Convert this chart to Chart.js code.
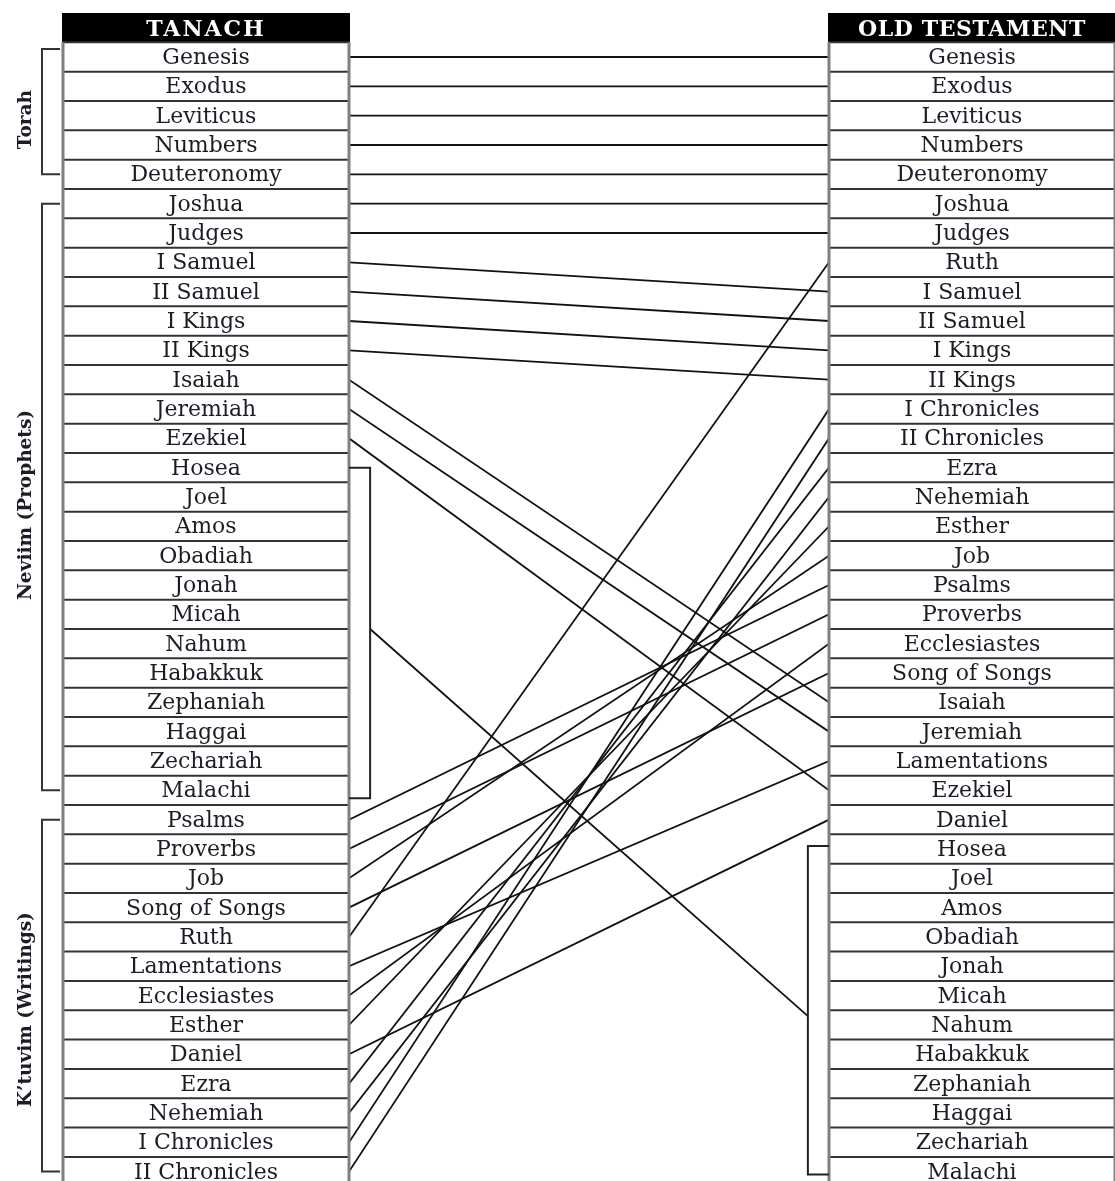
<!DOCTYPE html>
<html lang="en">

<head>
    <meta charset="UTF-8">
    <title>Tanach and Old Testament</title>
    <script src="https://cdn.jsdelivr.net/npm/chart.js@4.4.0/dist/chart.umd.min.js"></script>
    <style>
        html, body { margin: 0; padding: 0; background: #fff; }
        #canvas-container { width: 1115px; height: 1181px; }
    </style>
</head>

<body>
    <div id="canvas-container">
        <canvas id="myChart"></canvas>
    </div>
    <script>
        // book order in each canon (row 0 = first book)
        const tanach = ['Genesis', 'Exodus', 'Leviticus', 'Numbers', 'Deuteronomy', 'Joshua', 'Judges',
            'I Samuel', 'II Samuel', 'I Kings', 'II Kings', 'Isaiah', 'Jeremiah', 'Ezekiel', 'Hosea', 'Joel',
            'Amos', 'Obadiah', 'Jonah', 'Micah', 'Nahum', 'Habakkuk', 'Zephaniah', 'Haggai', 'Zechariah',
            'Malachi', 'Psalms', 'Proverbs', 'Job', 'Song of Songs', 'Ruth', 'Lamentations', 'Ecclesiastes',
            'Esther', 'Daniel', 'Ezra', 'Nehemiah', 'I Chronicles', 'II Chronicles']
        const oldTestament = ['Genesis', 'Exodus', 'Leviticus', 'Numbers', 'Deuteronomy', 'Joshua', 'Judges',
            'Ruth', 'I Samuel', 'II Samuel', 'I Kings', 'II Kings', 'I Chronicles', 'II Chronicles', 'Ezra',
            'Nehemiah', 'Esther', 'Job', 'Psalms', 'Proverbs', 'Ecclesiastes', 'Song of Songs', 'Isaiah',
            'Jeremiah', 'Lamentations', 'Ezekiel', 'Daniel', 'Hosea', 'Joel', 'Amos', 'Obadiah', 'Jonah',
            'Micah', 'Nahum', 'Habakkuk', 'Zephaniah', 'Haggai', 'Zechariah', 'Malachi']
        const headers = ['TANACH', 'OLD TESTAMENT']

        // sections of the Tanach, first and last row
        const sections = ['Torah', 'Neviim (Prophets)', 'K\u2019tuvim (Writings)']
        const sectionStart = [0, 5, 26]
        const sectionEnd = [4, 25, 38]

        // the Twelve (one book in the Tanach), bracketed on both sides
        const twelve = ['Hosea', 'Joel', 'Amos', 'Obadiah', 'Jonah', 'Micah', 'Nahum', 'Habakkuk',
            'Zephaniah', 'Haggai', 'Zechariah', 'Malachi']

        const TABLE_W = 286
        const BRACKET = 0.044   // bracket offset, as part of the gap between the tables
        const FONT = '"DejaVu Serif", serif'

        const tL0 = tanach.indexOf(twelve[0]), tL1 = tanach.indexOf(twelve[twelve.length - 1])
        const tR0 = oldTestament.indexOf(twelve[0]), tR1 = oldTestament.indexOf(twelve[twelve.length - 1])

        const datasets = []
        tanach.forEach((book, i) => {
            if (twelve.includes(book)) return
            datasets.push({
                label: book,
                data: [{ x: 0, y: i }, { x: 1, y: oldTestament.indexOf(book) }]
            })
        })
        datasets.push({
            label: 'The Twelve',
            data: [{ x: BRACKET, y: (tL0 + tL1) / 2 }, { x: 1 - BRACKET, y: (tR0 + tR1) / 2 + 0.2 }]
        })
        datasets.forEach(d => {
            d.showLine = true
            d.borderColor = '#111'
            d.borderWidth = 1.8
            d.pointRadius = 0
            d.tension = 0
        })

        const tablesPlugin = {
            id: 'tables',
            afterDatasetsDraw(chart) {
                const ctx = chart.ctx
                const ca = chart.chartArea
                const y = v => chart.scales.y.getPixelForValue(v)
                const bx = BRACKET * (ca.right - ca.left)
                const bottom = chart.height + 5

                function table(x0, books, title) {
                    const x1 = x0 + TABLE_W
                    ctx.save()
                    // header
                    ctx.fillStyle = '#000'
                    ctx.fillRect(x0 - 1, y(-1.5), TABLE_W + 2, y(-0.5) - y(-1.5))
                    ctx.fillStyle = '#fff'
                    ctx.font = 'bold 22px ' + FONT
                    ctx.textAlign = 'center'
                    ctx.textBaseline = 'alphabetic'
                    ctx.letterSpacing = title.length < 8 ? '2px' : '0.6px'
                    ctx.fillText(title, (x0 + x1) / 2, y(-1) + 8)
                    ctx.letterSpacing = '0px'
                    // row separators
                    ctx.strokeStyle = '#333'
                    ctx.lineWidth = 2
                    for (let i = 0; i <= books.length; i++) {
                        ctx.beginPath()
                        ctx.moveTo(x0, y(i - 0.5))
                        ctx.lineTo(x1, y(i - 0.5))
                        ctx.stroke()
                    }
                    // side borders
                    ctx.strokeStyle = '#808080'
                    ctx.lineWidth = 3
                    ctx.beginPath()
                    ctx.moveTo(x0, y(-0.5)); ctx.lineTo(x0, bottom)
                    ctx.moveTo(x1, y(-0.5)); ctx.lineTo(x1, bottom)
                    ctx.stroke()
                    // names
                    ctx.fillStyle = '#1c1c26'
                    ctx.font = '22px ' + FONT
                    books.forEach((b, i) => ctx.fillText(b, (x0 + x1) / 2, y(i) + 7))
                    ctx.restore()
                }

                function bracket(xv, xs, ya, yb) {
                    ctx.beginPath()
                    ctx.moveTo(xs, ya); ctx.lineTo(xv, ya); ctx.lineTo(xv, yb); ctx.lineTo(xs, yb)
                    ctx.stroke()
                }

                const leftX = ca.left - TABLE_W
                table(leftX, tanach, headers[0])
                table(ca.right, oldTestament, headers[1])

                ctx.save()
                ctx.strokeStyle = '#222'
                ctx.lineWidth = 2
                // the Twelve
                bracket(ca.left + bx, ca.left, y(tL0), y(tL1) + 8)
                bracket(ca.right - bx, ca.right, y(tR0) - 3, y(tR1) + 3)
                // Tanach sections
                ctx.strokeStyle = '#333'
                sections.forEach((s, k) => {
                    const ya = y(sectionStart[k]) - (k === 0 ? 8 : 0)
                    const yb = y(sectionEnd[k])
                    bracket(leftX - 21, leftX - 3, ya, yb)
                    ctx.save()
                    ctx.translate(leftX - 37, (ya + yb) / 2 + (k === 2 ? 14 : 8))
                    ctx.rotate(-Math.PI / 2)
                    ctx.fillStyle = '#1c1c26'
                    ctx.font = 'bold 18.5px ' + FONT
                    ctx.textAlign = 'center'
                    ctx.textBaseline = 'middle'
                    ctx.fillText(s, 0, 0)
                    ctx.restore()
                })
                ctx.restore()
            }
        }

        const config = {
            type: 'scatter',
            data: { datasets },
            options: {
                responsive: true,
                maintainAspectRatio: false,
                animation: false,
                layout: { padding: { left: 349, right: 1115 - 829, top: 13, bottom: 0 } },
                scales: {
                    x: { type: 'linear', min: 0, max: 1, display: false },
                    y: { type: 'linear', min: -1.5, max: 38.32, reverse: true, display: false }
                },
                plugins: {
                    legend: { display: false },
                    tooltip: { enabled: false }
                }
            },
            plugins: [tablesPlugin]
        }

        var myChart = new Chart(document.getElementById('myChart'), config)
    </script>
</body>

</html>
